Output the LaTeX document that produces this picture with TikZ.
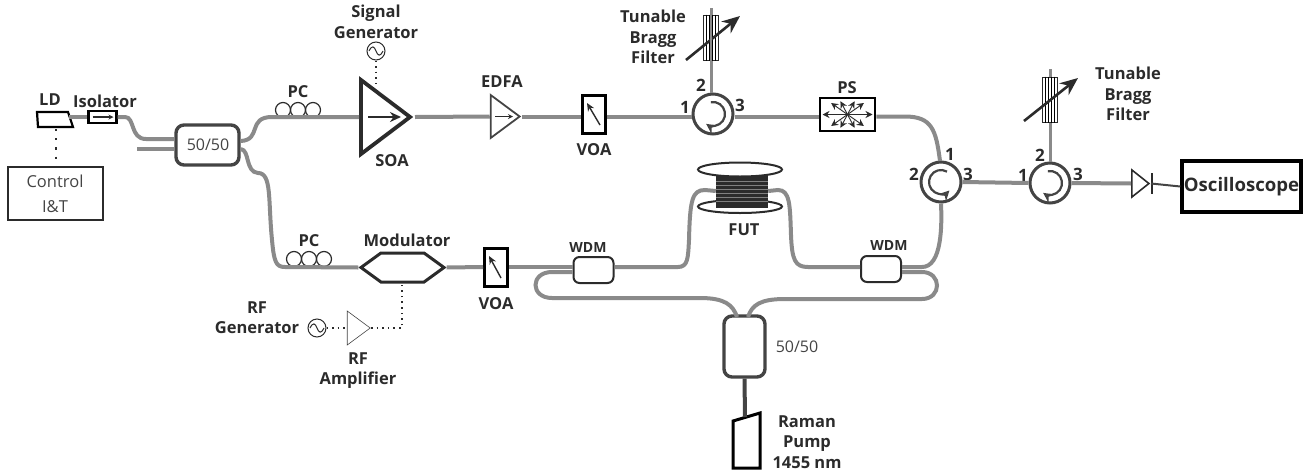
\documentclass[tikz,border=0pt]{standalone}
\usepackage{fontspec}
\setmainfont{Open Sans}
\usetikzlibrary{arrows.meta,calc,shapes.geometric,shapes.symbols,positioning}
\definecolor{fibregray}{HTML}{8A8A8A}
\definecolor{inkdark}{HTML}{2B2B2B}
\definecolor{couplergray}{HTML}{444444}

\begin{document}
\begin{tikzpicture}[x=1pt, y=-1pt, node distance = 20pt, auto]
    \tikzset{>=stealth}
    % Styles of the devices
    \tikzstyle{lab}     = [font=\fontsize{16.5}{20.5}\selectfont\bfseries, text=inkdark, align=center, inner sep=0pt]
    \tikzstyle{plain}   = [font=\fontsize{16}{20}\selectfont, text=couplergray, align=center, inner sep=0pt]
    \tikzstyle{port}    = [font=\fontsize{17}{17}\selectfont\bfseries, text=inkdark, inner sep=0pt]
    \tikzstyle{fibre}   = [line width=4pt, draw=fibregray]
    \tikzstyle{pumpfib} = [line width=4pt, draw=couplergray]
    \tikzstyle{coupler} = [rectangle, rounded corners=8pt, draw=couplergray, fill=white, line width=3.4pt, inner sep=0pt]
    \tikzstyle{wdm}     = [rectangle, rounded corners=6pt, draw=inkdark, fill=white, line width=2pt, minimum width=40pt, minimum height=26pt, inner sep=0pt]
    \tikzstyle{voa}     = [rectangle, draw=black, fill=white, line width=3pt, minimum width=23pt, minimum height=38pt, inner sep=0pt]
    \tikzstyle{coil}    = [circle, draw=inkdark, line width=1.2pt, minimum size=15pt, inner sep=0pt]
    \tikzstyle{circul}  = [circle, draw=couplergray, fill=white, line width=3pt, minimum size=40pt, inner sep=0pt]
    \tikzstyle{source}  = [circle, draw=inkdark, line width=1pt, minimum size=18pt, inner sep=0pt]
    \tikzstyle{grating} = [rectangle, draw=inkdark, fill=white, line width=1pt, minimum width=15pt, minimum height=45pt, inner sep=0pt]
    \tikzstyle{amp}     = [isosceles triangle, isosceles triangle stretches, draw=couplergray, fill=white, inner sep=0pt]
    \tikzstyle{ctrl}    = [line width=1.4pt, draw=inkdark, dash pattern=on 1.6pt off 4pt]
    \tikzstyle{tune}    = [line width=2.6pt, draw=inkdark, -{Stealth[length=18pt,width=15pt]}]
    \tikzstyle{inner}   = [line width=1.4pt, draw=inkdark, ->]
    \tikzstyle{spin}    = [line width=2.2pt, draw=couplergray, -{Stealth[length=10pt,width=10pt]}]

    \useasboundingbox (0,0) rectangle (1307,472);

    % Laser, isolator and first coupler
    \coordinate (ld) at (69,117);
    \coordinate (ldb) at (56,129);
    \draw[line width=2.2pt, line join=miter, fill=white] (37,112) -- (68,112) -- (73,127) -- (38,127) -- cycle;
    \draw[line width=1.6pt] (38,127.5) -- (73,127.5);
    \node[rectangle, draw=black, line width=2.4pt, minimum width=28pt, minimum height=12pt, inner sep=0pt] (iso) at (102.5,117) {};
    \draw[inner, line width=1.2pt] ([xshift=-10pt]iso.center) -- ([xshift=11pt]iso.center);
    \node[rectangle, draw=inkdark, line width=2.4pt, minimum width=95pt, minimum height=53pt, inner sep=0pt] (control) at (55.5,193.5) {};
    \node[plain, font=\fontsize{16.5}{25}\selectfont\mdseries] (controltxt) at (55,194) {Control\\I\&T};
    \node[lab] (ldlab) at (50,100) {LD};
    \node[lab] (isolab) at (105,101) {Isolator};
    \node[coupler, minimum width=63pt, minimum height=40pt] (cplA) at (207.5,145) {};
    \node[plain] (cplAtxt) at (208,145) {50/50};
    \coordinate (inB) at (137,149);

    % Upper arm
    \node[coil] (pcA) at (283,110) {};
    \node[coil] (pcB) at (298,110) {};
    \node[coil] (pcC) at (313,110) {};
    \node[lab] (pclab) at (298,92) {PC};
    \node[amp, draw=inkdark, line width=3.8pt, minimum width=74pt, minimum height=49pt, anchor=apex] (soa) at (415,117) {};
    \draw[inner, line width=2pt, -{Stealth[length=11pt,width=10pt]}] (368,117) -- (401,117);
    \node[lab] (soalab) at (392,161) {SOA};
    \node[source] (siggen) at (376,51) {};
    \draw[line width=1pt, draw=inkdark] (369,51) .. controls (372,45) and (374,46) .. (376,51) .. controls (378,56) and (380,57) .. (383,51);
    \node[lab] (siglab) at (376,22) {Signal\\Generator};
    \node[amp, line width=1.8pt, minimum width=43pt, minimum height=29pt, anchor=apex] (edfa) at (522,116.5) {};
    \draw[inner, line width=1.2pt] (495,116.5) -- (513,116.5);
    \node[lab] (edfalab) at (502,82) {EDFA};
    \node[voa] (voaA) at (593.5,114) {};
    \draw[inner, -{Stealth[length=8pt,width=7pt]}] (600,125) -- (587,103);
    \node[lab] (voaAlab) at (594,150) {VOA};
    \node[circul] (circA) at (713,114) {};
    \draw[spin] ([shift={(-100:12)}]circA.center) arc (-100:125:12);
    \node[port] (circA1) at (685,107) {1};
    \node[port] (circA2) at (701,85) {2};
    \node[port] (circA3) at (740,105) {3};
    \node[grating] (tbgA) at (711,37.5) {};
    \foreach \dx in {-4.5,-1.5,1.5,4.5} \draw[line width=.6pt] ([xshift=\dx pt]tbgA.north) -- ([xshift=\dx pt]tbgA.south);
    \coordinate (endA) at (711,8);
    \draw[tune] (686,60) -- (740,16);
    \node[lab] (tbgAlab) at (653,37) {Tunable\\Bragg\\Filter};
    \node[rectangle, draw=black, line width=2.8pt, fill=white, minimum width=55pt, minimum height=33pt, inner sep=0pt] (ps) at (847.5,114.5) {};
    \foreach \a/\l in {0/25, 35/20, 62/15, 118/15, 145/20, 180/25, 215/20, 242/15, 298/15, 325/20}
      \draw[line width=.9pt, draw=inkdark, -{Stealth[length=7pt,width=7pt]}] (ps.center) -- ([shift={(\a:\l)}]ps.center);
    \node[lab] (pslab) at (847,88) {PS};

    % Circulators at the output
    \node[circul] (circB) at (941,182) {};
    \draw[spin] ([shift={(-60:12)}]circB.center) arc (-60:-315:12);
    \node[port] (circB1) at (950,154) {1};
    \node[port] (circB2) at (914,174) {2};
    \node[port] (circB3) at (968,174) {3};
    \node[circul] (circC) at (1050,183) {};
    \draw[spin] ([shift={(-100:12)}]circC.center) arc (-100:125:12);
    \node[port] (circC1) at (1023,175) {1};
    \node[port] (circC2) at (1040,155) {2};
    \node[port] (circC3) at (1078,174) {3};
    \node[grating] (tbgB) at (1050,99.5) {};
    \foreach \dx in {-4.5,-1.5,1.5,4.5} \draw[line width=1pt] ([xshift=\dx pt]tbgB.north) -- ([xshift=\dx pt]tbgB.south);
    \coordinate (endB) at (1050,69);
    \draw[tune] (1024,121) -- (1078,78);
    \node[lab] (tbgBlab) at (1128,94) {Tunable\\Bragg\\Filter};
    \node[amp, line width=1.6pt, draw=inkdark, minimum width=27pt, minimum height=17pt, anchor=apex] (diode) at (1151,183.5) {};
    \draw[line width=1.6pt, draw=inkdark] (1152,173) -- (1152,194);
    \node[rectangle, draw=black, line width=3.4pt, minimum width=119pt, minimum height=51pt, inner sep=0pt, font=\fontsize{18.6}{20}\selectfont\bfseries, text=inkdark] (scope) at (1241.5,186.5) {Oscilloscope};

    % Lower arm
    \node[coil] (pcD) at (294,259) {};
    \node[coil] (pcE) at (309,259) {};
    \node[coil] (pcF) at (324,259) {};
    \node[lab] (pclabB) at (309,241) {PC};
    \node[signal, signal to=east and west, signal pointer angle=72, draw=inkdark, line width=3pt, fill=white, minimum width=83pt, minimum height=29pt, inner sep=0pt] (mod) at (402.5,267.5) {};
    \node[lab] (modlab) at (407,240) {Modulator};
    \node[voa] (voaB) at (496,267) {};
    \draw[inner, -{Stealth[length=8pt,width=7pt]}] (501,278) -- (489,256);
    \node[lab] (voaBlab) at (496,304) {VOA};
    \node[wdm] (wdmA) at (593.5,270) {};
    \node[lab, font=\fontsize{14}{15}\selectfont\bfseries] (wdmAlab) at (588,247) {WDM};
    \node[wdm] (wdmB) at (881,269) {};
    \node[lab, font=\fontsize{14}{15}\selectfont\bfseries] (wdmBlab) at (889,245) {WDM};

    % RF drive
    \node[source] (rfgen) at (317,328) {};
    \draw[line width=1pt, draw=inkdark] (310,328) .. controls (313,322) and (315,323) .. (317,328) .. controls (319,333) and (321,334) .. (324,328);
    \node[lab] (rfgenlab) at (257,317.5) {RF\\Generator};
    \node[amp, line width=.6pt, minimum width=34pt, minimum height=23pt, anchor=apex] (rfamp) at (371,328) {};
    \node[lab] (rfamplab) at (358,370.5) {RF\\Amplifier};
    \coordinate (rfbend) at (402,328);

    % Fibre under test
    \node[ellipse, draw=inkdark, line width=2pt, fill=white, minimum width=84pt, minimum height=13pt, inner sep=0pt] (spoolB) at (740,206.5) {};
    \node[rectangle, fill=inkdark, minimum width=52pt, minimum height=33pt, inner sep=0pt] (spool) at (742,191) {};
    \foreach \dy in {-10,-6,-2,2,6,10} \draw[line width=.5pt, draw=gray] ([yshift=\dy pt]spool.west) -- ([yshift=\dy pt]spool.east);
    \node[ellipse, draw=inkdark, line width=2pt, fill=white, minimum width=84pt, minimum height=14pt, inner sep=0pt] (spoolA) at (740,169.5) {};
    \node[lab] (futlab) at (744,230) {FUT};

    % Raman pump
    \node[coupler, minimum width=41pt, minimum height=61pt] (cplB) at (744.5,346.5) {};
    \node[plain] (cplBtxt) at (797,347) {50/50};
    \coordinate (pump) at (745,417);
    \draw[line width=3pt, line join=miter, fill=white] (733,421) -- (760,413) -- (760,468) -- (733,468) -- cycle;
    \node[lab] (pumplab) at (807,442) {Raman\\Pump\\1455 nm};

    % Fibres
    \draw[fibre] (ld) -- (iso.west);
    \draw[fibre] (iso.east) -- (125,117) .. controls (135,117) and (130,139) .. (146,139) -- ([yshift=6pt]cplA.west);
    \draw[fibre] (inB) -- ([yshift=-4pt]cplA.west);
    \draw[fibre] ([yshift=4pt]cplA.east) .. controls (262,140) and (247,117) .. (272,117) -- (soa.lower side);
    \draw[fibre] ([yshift=-4pt]cplA.east) .. controls (250,150) and (245,172) .. (258,173) .. controls (272,173) and (268,200) .. (272,240) .. controls (274,262) and (276,267) .. (285,267) -- (mod.west);
    \draw[fibre] (soa.apex) -- (edfa.lower side);
    \draw[fibre] (edfa.apex) -- (voaA.west |- edfa.apex);
    \draw[fibre] (voaA.east |- edfa.apex) -- (circA.west |- edfa.apex);
    \draw[fibre] (circA.east |- edfa.apex) -- (ps.west |- edfa.apex);
    \draw[fibre, line width=3pt] (circA.north -| endA) -- (tbgA.south);
    \draw[fibre, line width=3pt] (tbgA.north) -- (endA);
    \draw[fibre, line width=2.4pt] (tbgA.north) -- (tbgA.south);
    \draw[fibre] (ps.east |- edfa.apex) -- (905,116.5) .. controls (932,116.5) and (936,130) .. (940,161);
    \draw[fibre] (circB.south) .. controls (942,225) and (942,267) .. (922,267) -- (wdmB.east |- 0,267);
    \draw[fibre] (circB.east) -- (circC.west);
    \draw[fibre] (circC.east) -- (diode.lower side);
    \draw[fibre, line width=3pt] (circC.north) -- (tbgB.south);
    \draw[fibre, line width=3pt] (tbgB.north) -- (endB);
    \draw[line width=2pt, draw=couplergray] (diode.apex) -- (scope.west);
    \draw[fibre] (mod.east) -- (voaB.west);
    \draw[fibre] (voaB.east) -- (wdmA.west |- voaB.east);
    \draw[fibre] (wdmA.east |- 0,267) -- (678,267) .. controls (688,267) and (688,258) .. (689,240) .. controls (690,200) and (692,190) .. (705,190) -- (spool.west);
    \draw[fibre] (spool.east) -- (778,190) .. controls (790,190) and (790,205) .. (791,235) .. controls (792,260) and (795,267) .. (808,267) -- (wdmB.west |- 0,267);
    \draw[fibre] (wdmA.west |- 0,272) -- (552,272) .. controls (530,272) and (530,298) .. (552,298) -- (700,298) .. controls (725,298) and (733,305) .. (737,317);
    \draw[fibre] (wdmB.east |- 0,272) -- (922,272) .. controls (942,272) and (942,299) .. (922,299) -- (785,299) .. controls (760,299) and (752,305) .. (748,317);
    \draw[pumpfib] (cplB.south) -- (pump);

    % Electrical links
    \draw[ctrl, dash pattern=on 2.2pt off 7pt, line width=2.2pt] (ldb) -- (control.north -| ldb);
    \draw[ctrl] (siggen.south) -- (376,84);
    \draw[ctrl] (rfgen.east) -- (rfamp.lower side);
    \draw[ctrl] (rfamp.apex) -- (rfbend) -- (mod.south -| rfbend);
  \end{tikzpicture}
\end{document}
